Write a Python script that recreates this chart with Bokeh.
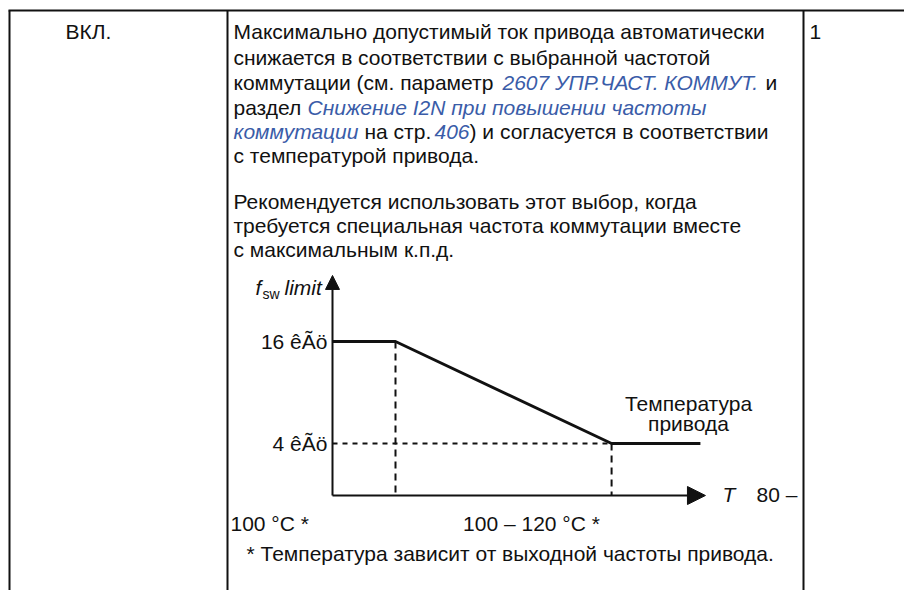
from bokeh.plotting import figure
from bokeh.models import Range1d, Arrow, NormalHead
from bokeh.core.properties import value
from bokeh.embed import file_html
from bokeh.resources import INLINE

# ---- diagram data (schematic) ----
fsw_levels_khz = [16, 16, 4, 4]          # switching frequency limit profile
t_profile = [0.0, 1.0, 4.43, 5.84]       # schematic temperature positions
fsw_tick_values = [16, 4]
fsw_tick_labels = ["16 êÃö", "4 êÃö"]
t_breaks = [1.0, 4.43]
axis_fsw = -2.118
axis_t_end = 5.92
axis_fsw_end = 23.77

FONT = value("Liberation Sans")
BLACK = "#111111"
BLUE = "#3a5ca8"
FS = "21px"

p = figure(width=904, height=590, x_range=Range1d(0, 904), y_range=Range1d(590, 0),
           output_backend="svg", toolbar_location=None, min_border=0)
p.axis.visible = False
p.grid.visible = False
p.outline_line_color = None
p.background_fill_color = "white"

# pixel 0 -> -332/63, pixel 904 -> 572/63 ; vertical: 4 kHz at 443 px, 8.5 px per kHz
p.extra_x_ranges = {"dx": Range1d(-332 / 63, 572 / 63)}
p.extra_y_ranges = {"dy": Range1d(4 - 147 / 8.5, 4 + 443 / 8.5)}

# ---- table borders ----
p.segment(x0=[8, 9, 227, 803], y0=[10, 10, 10, 10], x1=[904, 9, 227, 803], y1=[10, 590, 590, 590],
          line_color=BLACK, line_width=2)

def txt(x, y, s, color=BLACK, style="normal", size=FS, align="left"):
    p.text(x=[x], y=[y], text=[s], text_font=FONT, text_font_size=size, text_color=color,
           text_font_style=style, text_align=align, text_baseline="middle")

txt(88, 31, "ВКЛ.", align="center")
txt(809, 31, "1")

txt(233, 31, "Максимально допустимый ток привода автоматически")
txt(233, 57, "снижается в соответствии с выбранной частотой")
txt(233, 82, "коммутации (см. параметр")
txt(502, 82, "2607 УПР.ЧАСТ. КОММУТ.", color=BLUE, style="italic")
txt(765, 82, "и")
txt(233, 107, "раздел")
txt(307, 107, "Снижение I2N при повышении частоты", color=BLUE, style="italic")
txt(233, 131, "коммутации", color=BLUE, style="italic")
txt(364, 131, "на стр.")
txt(434, 131, "406", color=BLUE, style="italic")
txt(469, 131, ") и согласуется в соответствии")
txt(233, 155, "с температурой привода.")
txt(233, 201, "Рекомендуется использовать этот выбор, когда")
txt(233, 225, "требуется специальная частота коммутации вместе")
txt(233, 249, "с максимальным к.п.д.")

# ---- diagram ----
p.line(x=t_profile, y=fsw_levels_khz, x_range_name="dx", y_range_name="dy",
       line_color=BLACK, line_width=3)
p.segment(x0=t_breaks, y0=[fsw_levels_khz[1], fsw_levels_khz[2]], x1=t_breaks, y1=[axis_fsw, axis_fsw],
          x_range_name="dx", y_range_name="dy", line_color=BLACK, line_width=2, line_dash="7 5")
p.segment(x0=[0.0], y0=[fsw_tick_values[1]], x1=[t_breaks[1]], y1=[fsw_tick_values[1]],
          x_range_name="dx", y_range_name="dy", line_color=BLACK, line_width=2, line_dash="5 5")

p.add_layout(Arrow(x_start=0.0, y_start=axis_fsw, x_end=axis_t_end, y_end=axis_fsw,
                   x_range_name="dx", y_range_name="dy", line_width=2, line_color=BLACK,
                   end=NormalHead(size=18, fill_color=BLACK, line_color=BLACK)))
p.add_layout(Arrow(x_start=0.0, y_start=axis_fsw, x_end=0.0, y_end=axis_fsw_end,
                   x_range_name="dx", y_range_name="dy", line_width=2, line_color=BLACK,
                   end=NormalHead(size=14, fill_color=BLACK, line_color=BLACK)))

p.text(x=[-0.08] * 2, y=fsw_tick_values, text=fsw_tick_labels, x_range_name="dx", y_range_name="dy",
       text_font=FONT, text_font_size=FS, text_color=BLACK, text_align="right",
       text_baseline="middle")

txt(255, 287, "f", style="italic")
txt(262, 293, "sw", size="14px")
txt(284, 287, "limit", style="italic")
txt(688, 403, "Температура", align="center")
txt(688, 423, "привода", align="center")
txt(722, 494, "T", style="italic")
txt(756, 494, "80 –")
txt(230, 523, "100 °C *")
txt(531, 523, "100 – 120 °C *", align="center")
txt(246, 553, "* Температура зависит от выходной частоты привода.")

open("out.html", "w").write(file_html(p, INLINE))
